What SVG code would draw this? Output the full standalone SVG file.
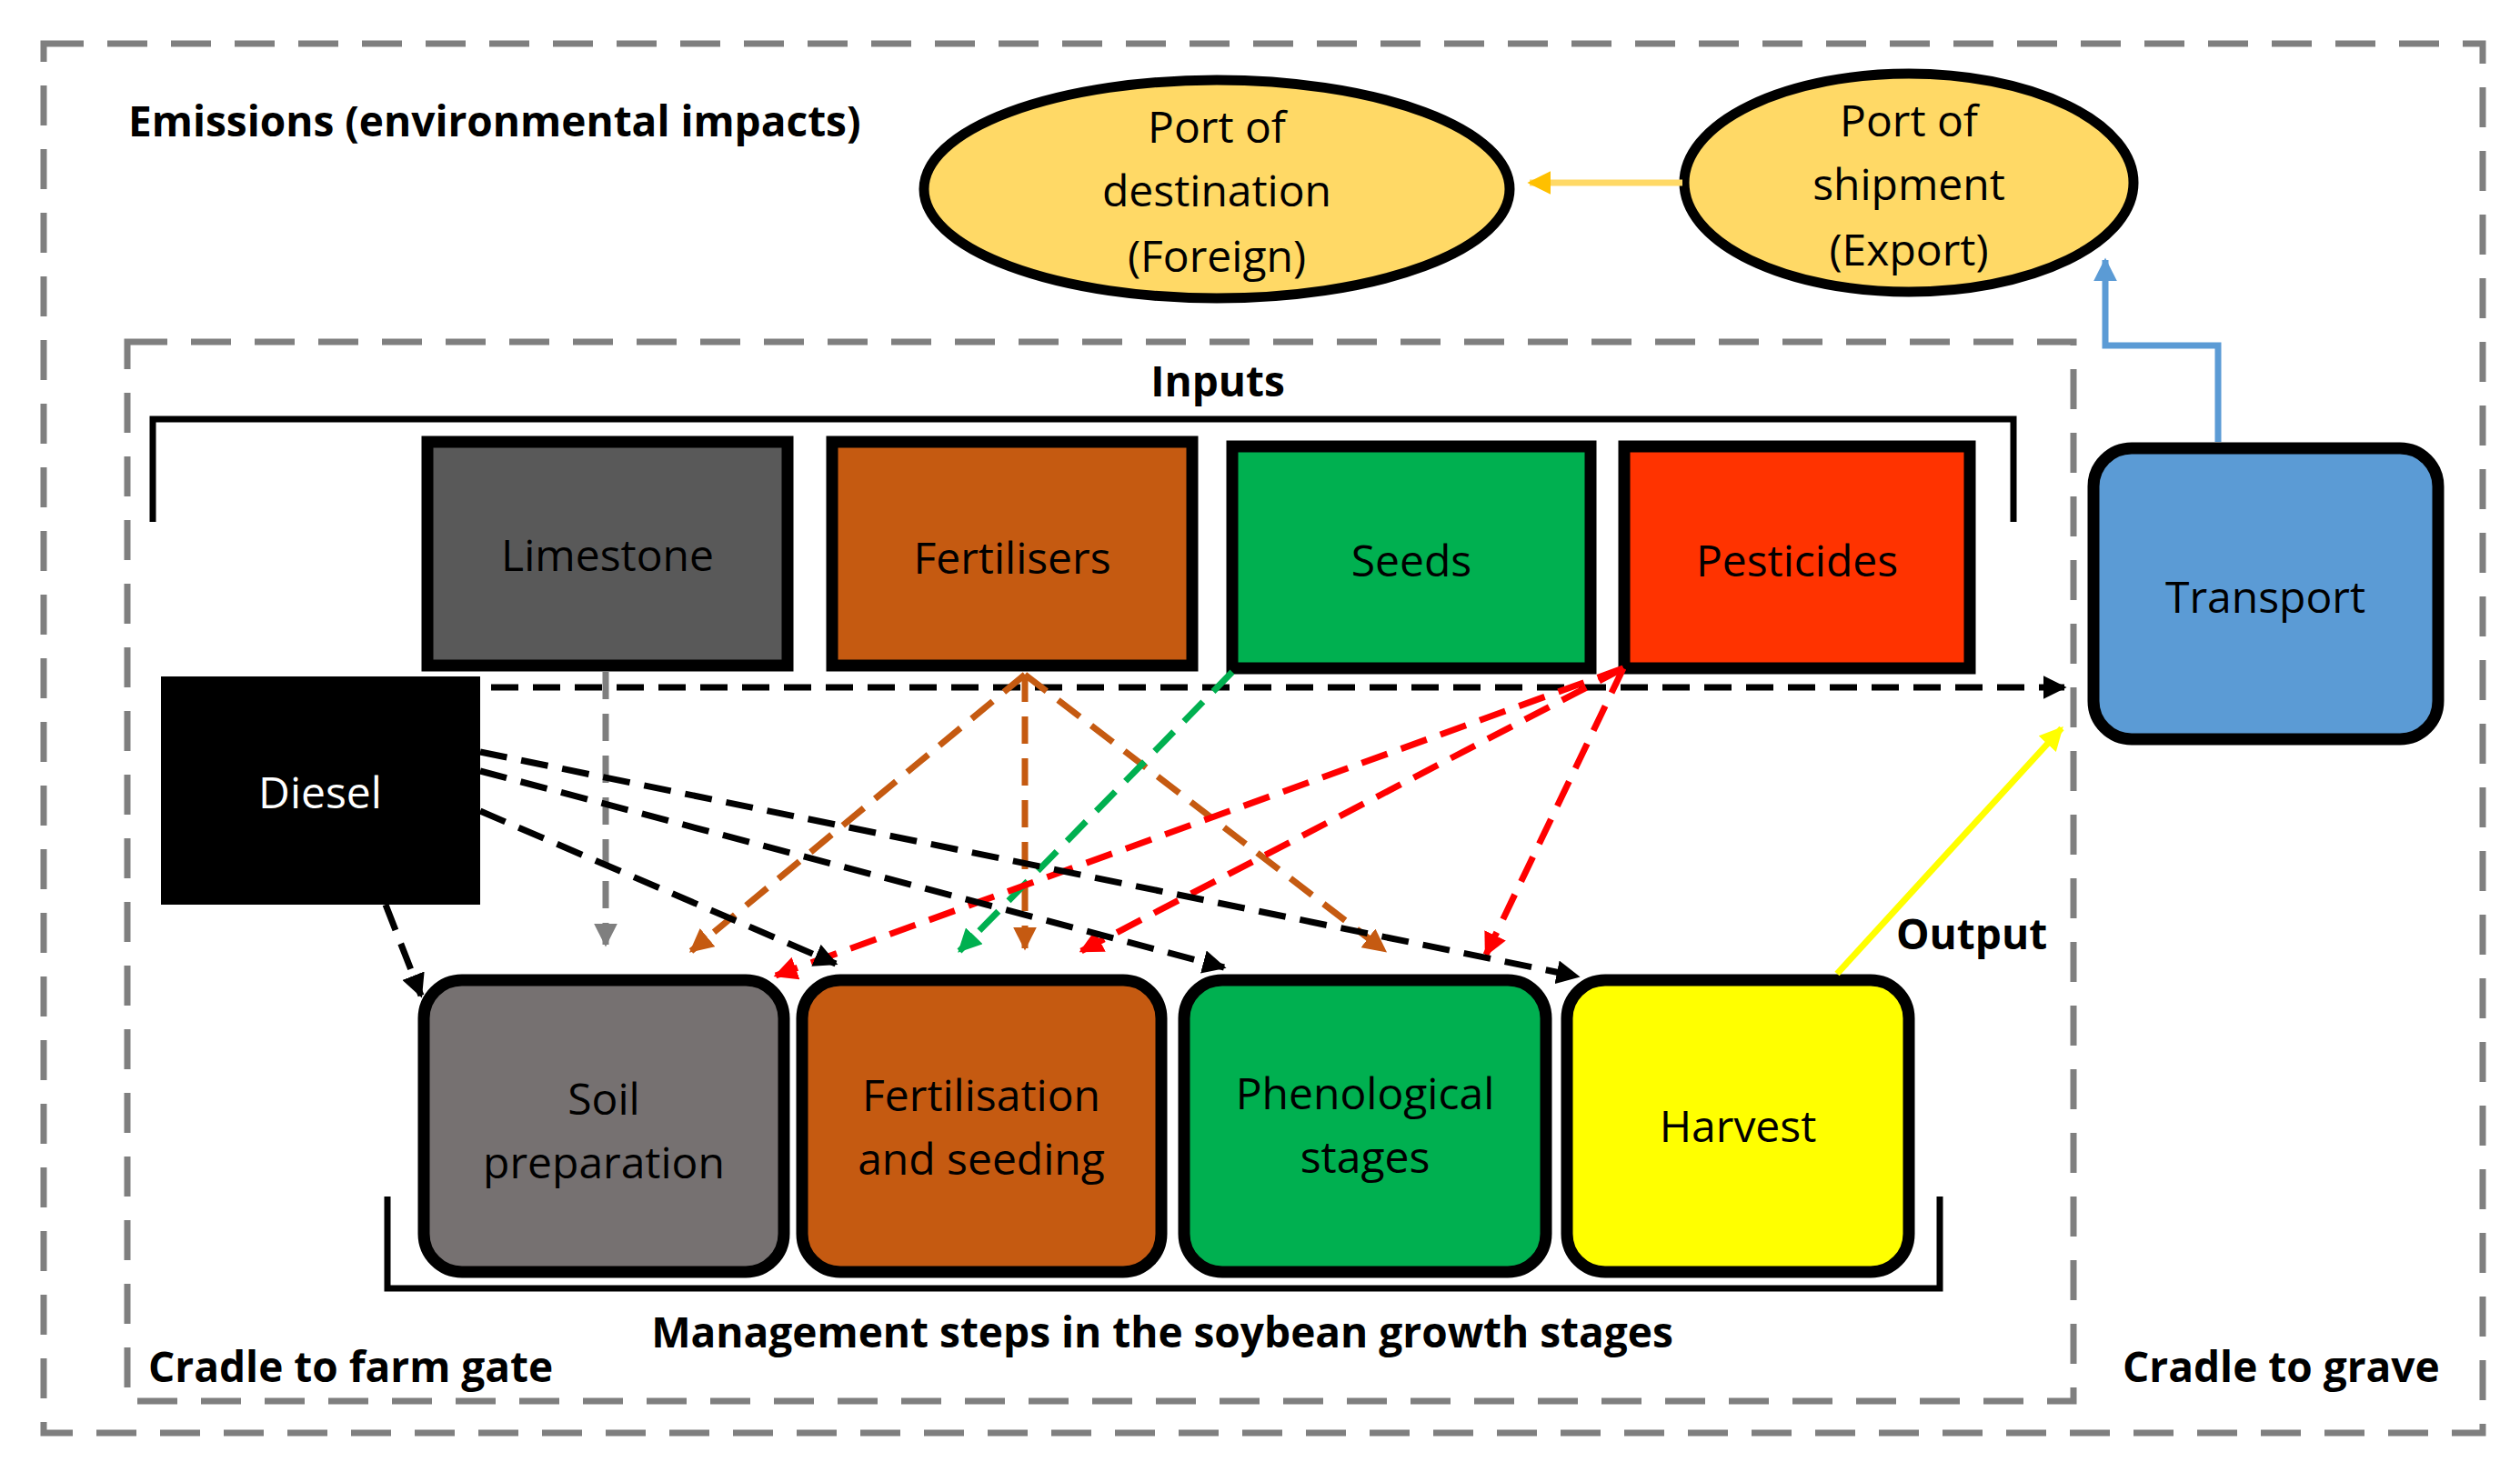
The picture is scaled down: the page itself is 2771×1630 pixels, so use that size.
<svg xmlns="http://www.w3.org/2000/svg" width="2771" height="1630" viewBox="0 0 2771 1630">
<style>
.t{font-family:"Open Sans","Liberation Sans",sans-serif;font-size:48px;text-anchor:middle;dominant-baseline:central}
.b{font-family:"Open Sans","Liberation Sans",sans-serif;font-size:46px;font-weight:bold}
.frame{fill:none;stroke:#7f7f7f;stroke-width:7;stroke-dasharray:44 26}
.box{stroke:#000;stroke-width:13}
.c{fill:none;stroke-width:7;stroke-dasharray:30 16}
</style>
<defs>
<marker id="mk" viewBox="0 0 10 10" refX="9" refY="5" markerWidth="26" markerHeight="26" markerUnits="userSpaceOnUse" orient="auto"><path d="M0,0L10,5L0,10z" fill="#000"/></marker>
<marker id="mg" viewBox="0 0 10 10" refX="9" refY="5" markerWidth="26" markerHeight="26" markerUnits="userSpaceOnUse" orient="auto"><path d="M0,0L10,5L0,10z" fill="#7f7f7f"/></marker>
<marker id="mo" viewBox="0 0 10 10" refX="9" refY="5" markerWidth="26" markerHeight="26" markerUnits="userSpaceOnUse" orient="auto"><path d="M0,0L10,5L0,10z" fill="#c55a11"/></marker>
<marker id="mgr" viewBox="0 0 10 10" refX="9" refY="5" markerWidth="26" markerHeight="26" markerUnits="userSpaceOnUse" orient="auto"><path d="M0,0L10,5L0,10z" fill="#00b050"/></marker>
<marker id="mr" viewBox="0 0 10 10" refX="9" refY="5" markerWidth="26" markerHeight="26" markerUnits="userSpaceOnUse" orient="auto"><path d="M0,0L10,5L0,10z" fill="#ff0000"/></marker>
<marker id="my" viewBox="0 0 10 10" refX="9" refY="5" markerWidth="26" markerHeight="26" markerUnits="userSpaceOnUse" orient="auto"><path d="M0,0L10,5L0,10z" fill="#ffc000"/></marker>
<marker id="my2" viewBox="0 0 10 10" refX="9" refY="5" markerWidth="26" markerHeight="26" markerUnits="userSpaceOnUse" orient="auto"><path d="M0,0L10,5L0,10z" fill="#ffff00"/></marker>
<marker id="mb" viewBox="0 0 10 10" refX="9" refY="5" markerWidth="26" markerHeight="26" markerUnits="userSpaceOnUse" orient="auto"><path d="M0,0L10,5L0,10z" fill="#5b9bd5"/></marker>
</defs>
<rect width="2771" height="1630" fill="#fff"/>
<rect class="frame" x="48" y="48" width="2682" height="1528"/>
<rect class="frame" x="140" y="376" width="2140" height="1165"/>
<text class="b" x="141" y="150">Emissions (environmental impacts)</text>
<text class="b" x="1339" y="436" text-anchor="middle">Inputs</text>
<text class="b" x="1278" y="1482" text-anchor="middle">Management steps in the soybean growth stages</text>
<text class="b" x="163" y="1520">Cradle to farm gate</text>
<text class="b" x="2334" y="1520">Cradle to grave</text>
<text class="b" x="2085" y="1044">Output</text>
<path d="M168,574V461H2214V574" fill="none" stroke="#000" stroke-width="7"/>
<path d="M426,1316V1417H2133V1316" fill="none" stroke="#000" stroke-width="7"/>
<g id="dest"><ellipse cx="1338" cy="208" rx="322" ry="120" fill="#ffd966" stroke="#000" stroke-width="11"/><text class="t" x="1338" y="138">Port of</text><text class="t" x="1338" y="208">destination</text><text class="t" x="1338" y="280">(Foreign)</text></g>
<g id="ship"><ellipse cx="2099" cy="201" rx="247" ry="120" fill="#ffd966" stroke="#000" stroke-width="11"/><text class="t" x="2099" y="131">Port of</text><text class="t" x="2099" y="201">shipment</text><text class="t" x="2099" y="273">(Export)</text></g>
<g id="transport"><rect x="2302" y="493" width="379" height="320" rx="42" fill="#5b9bd5" class="box"/><text class="t" x="2491" y="655">Transport</text></g>
<g id="limestone"><rect x="470" y="486" width="396" height="246" fill="#595959" class="box"/><text class="t" x="668" y="609">Limestone</text></g>
<g id="fertilisers"><rect x="915" y="486" width="396" height="246" fill="#c55a11" class="box"/><text class="t" x="1113" y="612">Fertilisers</text></g>
<g id="seeds"><rect x="1355" y="491" width="394" height="244" fill="#00b050" class="box"/><text class="t" x="1552" y="615">Seeds</text></g>
<g id="pesticides"><rect x="1786" y="491" width="380" height="244" fill="#ff3300" class="box"/><text class="t" x="1976" y="615">Pesticides</text></g>
<g id="diesel"><rect x="177" y="744" width="351" height="251" fill="#000"/><text class="t" x="352" y="870" fill="#fff">Diesel</text></g>
<g id="soil"><rect x="466" y="1078" width="396" height="321" rx="42" fill="#767171" class="box"/><text class="t" x="664" y="1207">Soil</text><text class="t" x="664" y="1277">preparation</text></g>
<g id="fertseed"><rect x="882" y="1078" width="395" height="321" rx="42" fill="#c55a11" class="box"/><text class="t" x="1079" y="1203">Fertilisation</text><text class="t" x="1079" y="1273">and seeding</text></g>
<g id="phen"><rect x="1302" y="1078" width="398" height="321" rx="42" fill="#00b050" class="box"/><text class="t" x="1501" y="1201">Phenological</text><text class="t" x="1501" y="1271">stages</text></g>
<g id="harvest"><rect x="1723" y="1078" width="376" height="321" rx="42" fill="#ffff00" class="box"/><text class="t" x="1911" y="1237">Harvest</text></g>
<g id="connectors">
<path d="M1850,201H1682" stroke="#ffd966" stroke-width="7" fill="none" marker-end="url(#my)"/>
<path d="M2439,486V380H2315V286" stroke="#5b9bd5" stroke-width="7" fill="none" marker-end="url(#mb)"/>
<path d="M2020,1071L2267,801" stroke="#ffff00" stroke-width="7" fill="none" marker-end="url(#my2)"/>
<path class="c" stroke="#000" d="M540,756H2270" marker-end="url(#mk)"/>
<path class="c" stroke="#7f7f7f" d="M666,739V1039" marker-end="url(#mg)"/>
<path class="c" stroke="#c55a11" d="M1127,742L760,1046" marker-end="url(#mo)"/>
<path class="c" stroke="#c55a11" d="M1127,742V1043" marker-end="url(#mo)"/>
<path class="c" stroke="#c55a11" d="M1127,742L1523,1046" marker-end="url(#mo)"/>
<path class="c" stroke="#00b050" d="M1355,739L1055,1046" marker-end="url(#mgr)"/>
<path class="c" stroke="#ff0000" d="M1785,735L853,1073" marker-end="url(#mr)"/>
<path class="c" stroke="#ff0000" d="M1785,735L1189,1046" marker-end="url(#mr)"/>
<path class="c" stroke="#ff0000" d="M1785,735L1634,1050" marker-end="url(#mr)"/>
<path class="c" stroke="#000" d="M424,995L463,1095" marker-end="url(#mk)"/>
<path class="c" stroke="#000" d="M528,892L919,1060" marker-end="url(#mk)"/>
<path class="c" stroke="#000" d="M528,848L1346,1064" marker-end="url(#mk)"/>
<path class="c" stroke="#000" d="M528,827L1735,1074" marker-end="url(#mk)"/>
</g>
</svg>
